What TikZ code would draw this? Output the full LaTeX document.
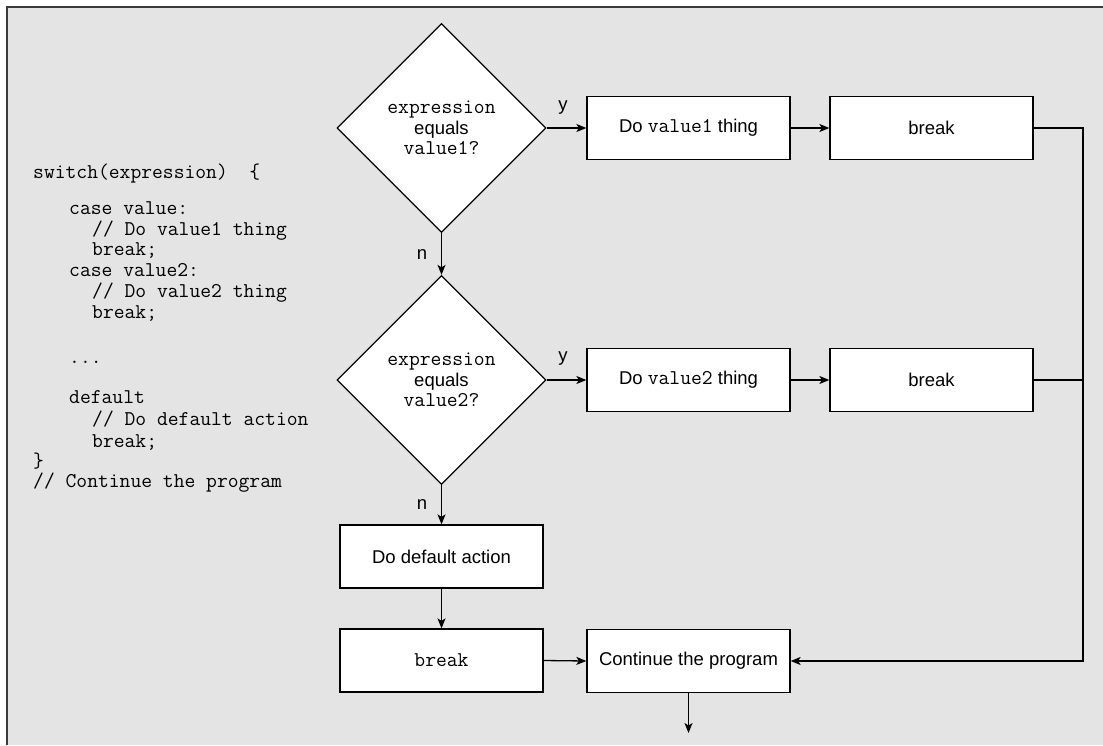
\documentclass[tikz,border=0pt]{standalone}
\usepackage{fontspec}
\setmainfont{Liberation Sans}
\usetikzlibrary{shapes.geometric,arrows.meta}
\newcommand\sffnt{\fontsize{18.5}{20.5}\selectfont}
\newcommand\ttfnt{\fontsize{21}{20.5}\ttfamily\selectfont}
\newcommand\tx[1]{{\ttfnt #1}}
\definecolor{bg}{HTML}{E4E4E4}
\definecolor{frame}{HTML}{3A3A3A}
\begin{document}
\begin{tikzpicture}[x=1pt,y=-1pt,
  boxnode/.style={draw, fill=white, line width=1.3pt, minimum width=203pt, minimum height=63pt, inner sep=0pt, font=\sffnt},
  diam/.style={diamond, draw, fill=white, line width=1.3pt, minimum width=209pt, minimum height=209pt, inner sep=0pt, align=center, font=\sffnt},
  arr/.style={-{Stealth[length=10pt,width=8pt,inset=2.5pt]}, line width=1.3pt},
  conn/.style={line width=1.3pt},
  lbl/.style={font=\sffnt, inner sep=0pt},
  code/.style={anchor=base west, inner sep=0pt, font=\ttfnt}
]
\useasboundingbox (0,0) rectangle (1103,745);
\fill[white] (0,0) rectangle (1103,745);
\fill[bg] (6.5,6.5) rectangle (1103,745);
\draw[frame, line width=2pt] (6.5,745) -- (6.5,6.5) -- (1103,6.5);

% code listing
\node[code] (c1) at (33,178) {switch(expression)~~\{};
\node[code] (c2) at (69,214) {case value:};
\node[code] (c3) at (92,235) {// Do value1 thing};
\node[code] (c4) at (92,255) {break;};
\node[code] (c5) at (69,276) {case value2:};
\node[code] (c6) at (92,297) {// Do value2 thing};
\node[code] (c7) at (92,318) {break;};
\node[code] (c8) at (69,363) {...};
\node[code] (c9) at (69,403) {default};
\node[code] (c10) at (92,425) {// Do default action};
\node[code] (c11) at (92,447) {break;};
\node[code] (c12) at (33,467) {\}};
\node[code] (c13) at (33,487) {// Continue the program};

% flowchart
\node[diam] (d1) at (441.5,128) {\tx{expression}\\equals\\\tx{value1?}};
\node[diam] (d2) at (441.5,380) {\tx{expression}\\equals\\\tx{value2?}};
\node[boxnode] (v1) at (688.5,128) {Do \tx{value1} thing};
\node[boxnode] (b1) at (931.5,128) {break};
\node[boxnode] (v2) at (688.5,380) {Do \tx{value2} thing};
\node[boxnode] (b2) at (931.5,380) {break};
\node[boxnode] (def) at (441.5,556.5) {Do default action};
\node[boxnode] (brk) at (441.5,660.5) {\tx{break}};
\node[boxnode] (cont) at (688.5,661) {Continue the program};

\coordinate (rt) at (1083,128);
\coordinate (fin) at (688.5,733);

\draw[arr] (d1.east) -- (v1.west);
\draw[arr] (v1.east) -- (b1.west);
\draw[arr] (d2.east) -- (v2.west);
\draw[arr] (v2.east) -- (b2.west);
\draw[arr] (d1.south) -- (d2.north);
\draw[arr] (d2.south) -- (def.north);
\draw[arr] (def.south) -- (brk.north);
\draw[arr] (brk.east) -- (cont.west);
\draw[arr] (cont.south) -- (fin);
\draw[arr] (b1.east) -- (b1.east -| rt) -- (rt |- cont.east) -- (cont.east);
\draw[conn] (b2.east) -- (b2.east -| rt);

\node[lbl] (y1) at (563,108) {y};
\node[lbl] (y2) at (563,359) {y};
\node[lbl] (n1) at (422,255) {n};
\node[lbl] (n2) at (422,505) {n};
\end{tikzpicture}
\end{document}
